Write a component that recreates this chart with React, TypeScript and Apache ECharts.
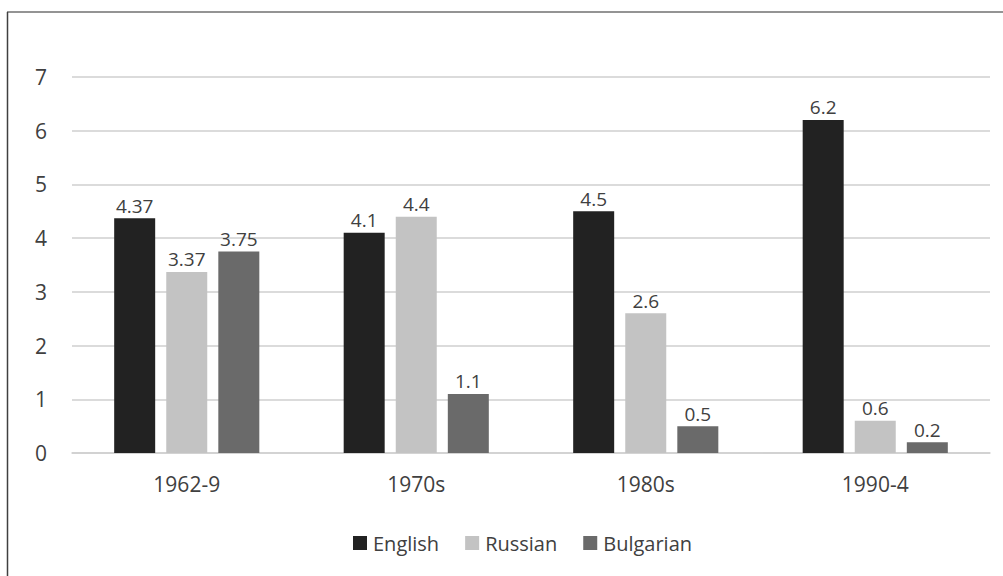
import React, { useEffect, useRef } from "react";
import * as echarts from "echarts";

const categories = ["1962-9", "1970s", "1980s", "1990-4"];
const english = [4.37, 4.1, 4.5, 6.2];
const russian = [3.37, 4.4, 2.6, 0.6];
const bulgarian = [3.75, 1.1, 0.5, 0.2];
const seriesNames = ["English", "Russian", "Bulgarian"];
const colors = ["#222222", "#c3c3c3", "#6a6a6a"];

export default function App() {
  const ref = useRef<HTMLDivElement>(null);
  useEffect(() => {
    document.body.style.margin = "0";
    const chart = echarts.init(ref.current!, null, { renderer: "svg" });
    const font = "'Open Sans', 'Noto Sans', sans-serif";
    const mk = (name: string, data: number[], color: string) => ({
      name,
      type: "bar",
      data,
      barWidth: 41,
      barGap: "27%",
      itemStyle: { color },
      label: {
        show: true,
        position: "top",
        distance: 3,
        color: "#404040",
        fontSize: 19,
        fontFamily: font,
      },
    });
    chart.setOption({
      animation: false,
      backgroundColor: "#ffffff",
      textStyle: { fontFamily: font },
      grid: { left: 72, right: 13, top: 77, bottom: 123 },
      legend: {
        top: 528,
        left: 348,
        itemWidth: 14,
        itemHeight: 14,
        itemGap: 26,
        icon: "rect",
        textStyle: { color: "#404040", fontSize: 20, fontFamily: font, padding: [0, 0, 0, 1] },
        data: seriesNames,
      },
      xAxis: {
        type: "category",
        data: categories,
        axisLine: { show: true, lineStyle: { color: "#d0d0d0", width: 1.5 } },
        axisTick: { show: false },
        axisLabel: { color: "#404040", fontSize: 21, margin: 20, fontFamily: font },
      },
      yAxis: {
        type: "value",
        min: 0,
        max: 7,
        interval: 1,
        axisLine: { show: false },
        axisTick: { show: false },
        axisLabel: { color: "#404040", fontSize: 21, margin: 25, fontFamily: font },
        splitLine: { lineStyle: { color: "#cfcfcf", width: 1.5 } },
      },
      series: [
        mk(seriesNames[0], english, colors[0]),
        mk(seriesNames[1], russian, colors[1]),
        mk(seriesNames[2], bulgarian, colors[2]),
      ],
      graphic: [
        { type: "line", shape: { x1: 7, y1: 12, x2: 1003, y2: 12 }, style: { stroke: "#707070", lineWidth: 1.5 } },
        { type: "line", shape: { x1: 7.5, y1: 12, x2: 7.5, y2: 576 }, style: { stroke: "#404040", lineWidth: 1.5 } },
      ],
    });
    return () => chart.dispose();
  }, []);
  return <div ref={ref} style={{ width: 1003, height: 576 }} />;
}
